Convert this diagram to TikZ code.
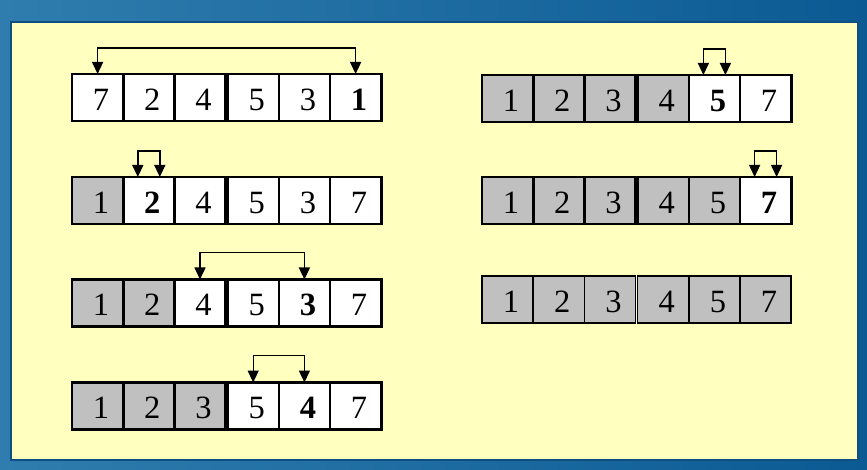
\documentclass[tikz,border=0pt]{standalone}
\usepackage{fontspec}
\setmainfont{Liberation Serif}
\usetikzlibrary{arrows.meta,calc}
\definecolor{bgA}{HTML}{2F7DAE}
\definecolor{bgB}{HTML}{0B5A93}
\definecolor{panel}{HTML}{FFFFC0}
\definecolor{panelrim}{HTML}{0E4E80}
\definecolor{done}{HTML}{C0C0C0}
\tikzset{
  cell/.style={draw=black, line width=2.6pt, minimum width=51.2pt, minimum height=47pt,
    inner sep=0pt, outer sep=0pt, fill=white, text height=25.6pt, text depth=0pt,
    font=\fontsize{32.5}{32.5}\selectfont, execute at begin node=\hspace*{7pt}},
  thincell/.style={cell, line width=1.6pt},
  grey/.style={fill=done},
  swap/.style={line width=1.4pt, {Triangle[length=12pt,width=11pt]}-{Triangle[length=12pt,width=11pt]}},
}
\begin{document}
\begin{tikzpicture}[x=1pt,y=-1pt]
\useasboundingbox (0,0) rectangle (867,470);
\shade[left color=bgA, right color=bgB] (0,0) rectangle (867,470);
\fill[panel, draw=panelrim, line width=2pt] (11,22) rectangle (858,460);
% row 1
\node[cell] (a1) at (97.6,97.5) {7};
\node[cell] (a2) at (148.8,97.5) {2};
\node[cell] (a3) at (200,97.5) {4};
\node[cell] (a4) at (253.2,97.5) {5};
\node[cell] (a5) at (304.4,97.5) {3};
\node[cell] (a6) at (355.6,97.5) {\textbf{1}};
\draw[swap] (a1.north) -- ++(0,-26) -| (a6.north);
% row 2
\node[cell,grey] (b1) at (97.6,200.5) {1};
\node[cell] (b2) at (148.8,200.5) {\textbf{2}};
\node[cell] (b3) at (200,200.5) {4};
\node[cell] (b4) at (253.2,200.5) {5};
\node[cell] (b5) at (304.4,200.5) {3};
\node[cell] (b6) at (355.6,200.5) {7};
\draw[swap] ([xshift=-11pt]b2.north) -- ++(0,-26) -| ([xshift=11pt]b2.north);
% row 3
\node[cell,grey] (c1) at (97.6,303) {1};
\node[cell,grey] (c2) at (148.8,303) {2};
\node[cell] (c3) at (200,303) {4};
\node[cell] (c4) at (253.2,303) {5};
\node[cell] (c5) at (304.4,303) {\textbf{3}};
\node[cell] (c6) at (355.6,303) {7};
\draw[swap] (c3.north) -- ++(0,-27) -| (c5.north);
% row 4
\node[cell,grey] (d1) at (97.6,406) {1};
\node[cell,grey] (d2) at (148.8,406) {2};
\node[cell,grey] (d3) at (200,406) {3};
\node[cell] (d4) at (253.2,406) {5};
\node[cell] (d5) at (304.4,406) {\textbf{4}};
\node[cell] (d6) at (355.6,406) {7};
\draw[swap] (d4.north) -- ++(0,-27) -| (d5.north);
% right rows
\node[cell,grey] (e1) at (507.6,98.5) {1};
\node[cell,grey] (e2) at (558.8,98.5) {2};
\node[cell,grey] (e3) at (610,98.5) {3};
\node[cell,grey] (e4) at (663.2,98.5) {4};
\node[cell] (e5) at (714.4,98.5) {\textbf{5}};
\node[cell] (e6) at (765.6,98.5) {7};
\draw[swap] ([xshift=-11pt]e5.north) -- ++(0,-26) -| ([xshift=11pt]e5.north);
\node[cell,grey] (f1) at (507.6,200.5) {1};
\node[cell,grey] (f2) at (558.8,200.5) {2};
\node[cell,grey] (f3) at (610,200.5) {3};
\node[cell,grey] (f4) at (663.2,200.5) {4};
\node[cell,grey] (f5) at (714.4,200.5) {5};
\node[cell] (f6) at (765.6,200.5) {\textbf{7}};
\draw[swap] ([xshift=-11pt]f6.north) -- ++(0,-26) -| ([xshift=11pt]f6.north);
\node[thincell,grey] (g1) at (507.6,299.5) {1};
\node[thincell,grey] (g2) at (558.8,299.5) {2};
\node[thincell,grey] (g3) at (610,299.5) {3};
\node[thincell,grey] (g4) at (663.2,299.5) {4};
\node[thincell,grey] (g5) at (714.4,299.5) {5};
\node[thincell,grey] (g6) at (765.6,299.5) {7};
\end{tikzpicture}
\end{document}
